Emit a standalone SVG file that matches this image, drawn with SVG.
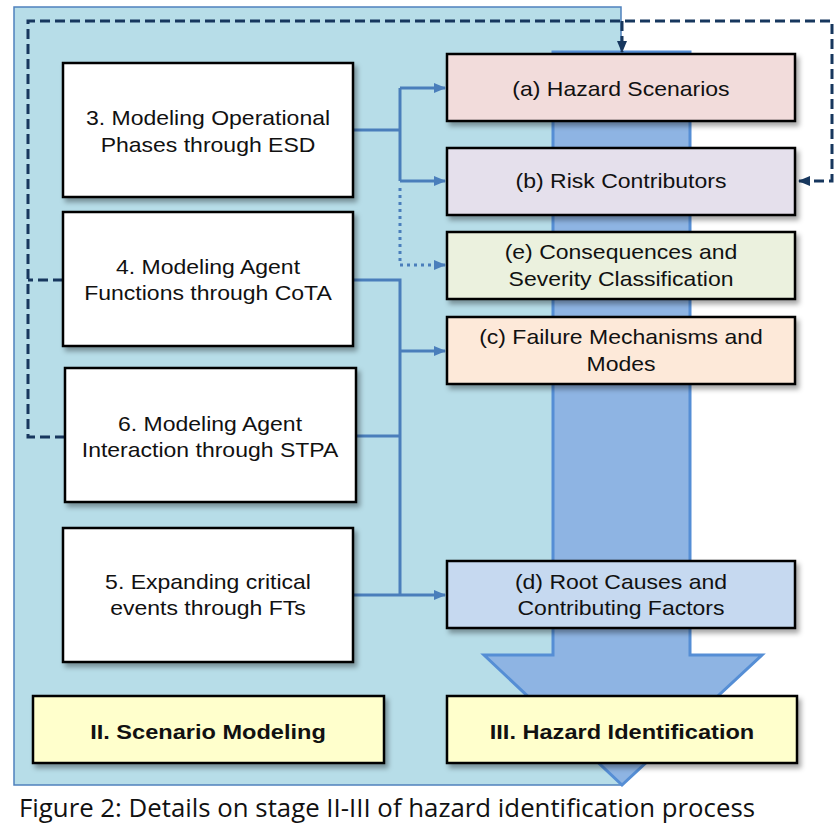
<svg xmlns="http://www.w3.org/2000/svg" width="839" height="829" viewBox="0 0 839 829">
<defs>
<filter id="sh" x="-10%" y="-10%" width="130%" height="140%">
<feDropShadow dx="3" dy="4" stdDeviation="2.5" flood-color="#000" flood-opacity="0.35"/>
</filter>
<marker id="ab" markerWidth="12" markerHeight="10" refX="11" refY="5" orient="auto" markerUnits="userSpaceOnUse">
<path d="M0,0 L12,5 L0,10 Z" fill="#4a7ebb"/>
</marker>
<marker id="an" markerWidth="12" markerHeight="10" refX="11" refY="5" orient="auto" markerUnits="userSpaceOnUse">
<path d="M0,0 L12,5 L0,10 Z" fill="#17375e"/>
</marker>
<style>
.box{stroke:#000;stroke-width:2.5;filter:url(#sh)}
.t{font-family:"Liberation Sans",Arial,sans-serif;font-size:20px;fill:#111;text-anchor:middle}
.tb{font-family:"Liberation Sans",Arial,sans-serif;font-size:20.5px;font-weight:bold;fill:#111;text-anchor:middle}
.c{fill:none;stroke:#4a7ebb;stroke-width:3}
.d{fill:none;stroke:#17375e;stroke-width:3;stroke-dasharray:10 5}
</style>
</defs>
<rect x="0" y="0" width="839" height="829" fill="#fff"/>
<g id="panel">
<rect x="14" y="7" width="607" height="778" fill="#b7dde8" stroke="#4f81bd" stroke-width="1.5"/>
</g>
<g id="bigarrow">
<path d="M553,52 L690,52 L690,655 L762,655 L622,785 L484,655 L553,655 Z" fill="#8eb4e3" stroke="#558ed5" stroke-width="3" stroke-linejoin="miter"/>
</g>
<g id="connectors">
<path class="c" d="M353,130 L400,130"/>
<path class="c" d="M400,88 L400,181"/>
<path class="c" d="M400,88 L445,88" marker-end="url(#ab)"/>
<path class="c" d="M400,181 L445,181" marker-end="url(#ab)"/>
<path class="c" d="M400,188 L400,265 L445,265" stroke-dasharray="3 4" marker-end="url(#ab)"/>
<path class="c" d="M353,280 L400,280 L400,595"/>
<path class="c" d="M400,351 L445,351" marker-end="url(#ab)"/>
<path class="c" d="M356,436 L400,436"/>
<path class="c" d="M353,595 L445,595" marker-end="url(#ab)"/>
<path class="d" d="M63,280 L28,280"/>
<path class="d" d="M65,437 L28,437 L28,21 L832,21 L832,181 L799,181" marker-end="url(#an)"/>
<path class="d" d="M622,21 L622,52" stroke-dasharray="none" marker-end="url(#an)"/>
</g>
<g id="box3">
<rect class="box" x="63" y="63" width="290" height="134" fill="#fff"/>
<text class="t" transform="translate(208,125) scale(1.15,1)">3. Modeling Operational</text>
<text class="t" transform="translate(208,152) scale(1.15,1)">Phases through ESD</text>
</g>
<g id="box4">
<rect class="box" x="63" y="212" width="290" height="134" fill="#fff"/>
<text class="t" transform="translate(208,274) scale(1.15,1)">4. Modeling Agent</text>
<text class="t" transform="translate(208,300) scale(1.15,1)">Functions through CoTA</text>
</g>
<g id="box6">
<rect class="box" x="65" y="368" width="291" height="134" fill="#fff"/>
<text class="t" transform="translate(210,431) scale(1.15,1)">6. Modeling Agent</text>
<text class="t" transform="translate(210,457) scale(1.15,1)">Interaction through STPA</text>
</g>
<g id="box5">
<rect class="box" x="63" y="528" width="290" height="134" fill="#fff"/>
<text class="t" transform="translate(208,589) scale(1.15,1)">5. Expanding critical</text>
<text class="t" transform="translate(208,615) scale(1.15,1)">events through FTs</text>
</g>
<g id="boxA">
<rect class="box" x="447" y="54" width="348" height="67" fill="#f2dcdb"/>
<text class="t" transform="translate(621,96) scale(1.15,1)">(a) Hazard Scenarios</text>
</g>
<g id="boxB">
<rect class="box" x="447" y="148" width="348" height="67" fill="#e5e0ec"/>
<text class="t" transform="translate(621,188) scale(1.15,1)">(b) Risk Contributors</text>
</g>
<g id="boxE">
<rect class="box" x="447" y="232" width="348" height="67" fill="#ebf1de"/>
<text class="t" transform="translate(621,259) scale(1.15,1)">(e) Consequences and</text>
<text class="t" transform="translate(621,286) scale(1.15,1)">Severity Classification</text>
</g>
<g id="boxC">
<rect class="box" x="447" y="317" width="348" height="67" fill="#fde9d9"/>
<text class="t" transform="translate(621,344) scale(1.15,1)">(c) Failure Mechanisms and</text>
<text class="t" transform="translate(621,371) scale(1.15,1)">Modes</text>
</g>
<g id="boxD">
<rect class="box" x="447" y="561" width="348" height="67" fill="#c6d9f0"/>
<text class="t" transform="translate(621,589) scale(1.15,1)">(d) Root Causes and</text>
<text class="t" transform="translate(621,615) scale(1.15,1)">Contributing Factors</text>
</g>
<g id="stage2">
<rect class="box" x="33" y="696" width="351" height="67" fill="#ffffcc"/>
<text class="tb" transform="translate(208,739) scale(1.15,1)">II. Scenario Modeling</text>
</g>
<g id="stage3">
<rect class="box" x="447" y="696" width="350" height="67" fill="#ffffcc"/>
<text class="tb" transform="translate(622,739) scale(1.15,1)">III. Hazard Identification</text>
</g>
<text x="19" y="817" font-family="Open Sans, sans-serif" font-size="25" fill="#111" textLength="736" lengthAdjust="spacingAndGlyphs">Figure 2: Details on stage II-III of hazard identification process</text>
</svg>
